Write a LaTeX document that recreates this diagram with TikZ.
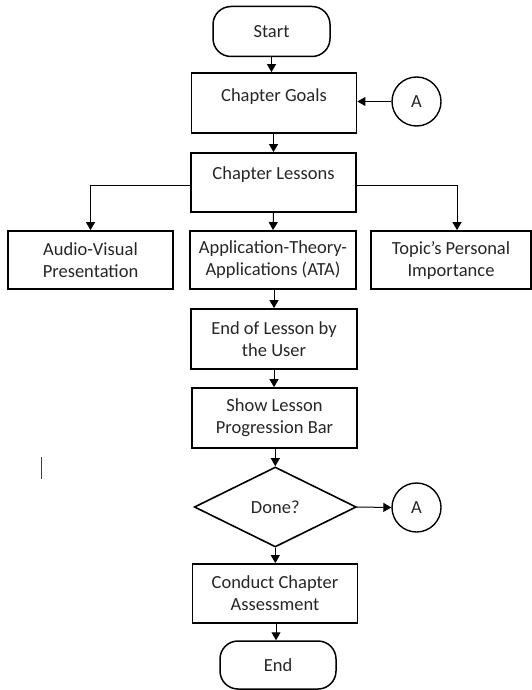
\documentclass[tikz,border=0pt]{standalone}
\usepackage{fontspec}
\setmainfont{Carlito}
\usetikzlibrary{arrows.meta,shapes.geometric}
\begin{document}
\begin{tikzpicture}[x=1pt,y=-1pt,
  every node/.style={font=\fontsize{18.5}{22}\selectfont, text=black!85},
  proc/.style={draw, line width=1.8pt, rectangle, align=center, inner sep=0pt},
  term/.style={draw, line width=1.5pt, rectangle, rounded corners=18pt, inner sep=0pt},
  conn/.style={draw, line width=1.4pt, circle, inner sep=0pt},
  dec/.style={draw, line width=1.6pt, diamond, aspect=2, inner sep=0pt},
  arr/.style={line width=1pt, -{Triangle[length=8pt,width=9pt]}}
]
\useasboundingbox (0,0) rectangle (532,690);

\node[term, minimum width=117pt, minimum height=50pt] (start) at (271.5,31.5) {Start};
\node[proc, minimum width=165pt, minimum height=60pt, text depth=16pt] (goals) at (274,103) {Chapter Goals};
\node[conn, minimum size=49pt] (ca) at (416.5,101.5) {A};
\node[proc, minimum width=165pt, minimum height=59pt, text depth=19pt] (les) at (273.5,182.5) {Chapter Lessons};
\node[proc, minimum width=165pt, minimum height=58pt] (av) at (90.5,260) {Audio-Visual\\Presentation};
\node[proc, minimum width=166pt, minimum height=58pt] (ata) at (273,260) {Application-Theory-\\Applications (ATA)};
\node[proc, minimum width=160pt, minimum height=58pt] (tpi) at (451,260) {Topic’s Personal\\Importance};
\node[proc, minimum width=166pt, minimum height=60pt] (eol) at (274,339) {End of Lesson by\\the User};
\node[proc, minimum width=165pt, minimum height=60pt] (slp) at (274.5,418) {Show Lesson\\Progression Bar};
\node[dec, minimum width=162pt, minimum height=80pt] (done) at (275.3,507) {Done?};
\node[conn, minimum size=49pt] (cb) at (416.5,507.5) {A};
\node[proc, minimum width=165pt, minimum height=59pt] (cca) at (275,593.5) {Conduct Chapter\\Assessment};
\node[term, minimum width=116pt, minimum height=48pt] (end) at (278,665) {End};

\coordinate (cur1) at (41.5,457);
\coordinate (cur2) at (41.5,479);

\draw[arr] (start.south) -- (start.south |- goals.north);
\draw[arr] (ca.west) -- (goals.east |- ca.west);
\draw[arr] (goals.south -| les.north) -- (les.north);
\draw[arr] ([yshift=-2.5pt]les.west) -| (av.north);
\draw[arr] ([yshift=-2.5pt]les.east) -| ([xshift=6pt]tpi.north);
\draw[arr] (les.south) -- (ata.north);
\draw[arr] ([xshift=1pt]ata.south) -- ([xshift=1pt]ata.south |- eol.north);
\draw[arr] (eol.south) -- (eol.south |- slp.north);
\draw[arr] (slp.south -| done.north) -- (done.north);
\draw[arr] (done.east) -- (cb.west);
\draw[arr] (done.south) -- (done.south |- cca.north);
\draw[arr] ([xshift=1pt]cca.south) -- ([xshift=1pt]cca.south |- end.north);

\draw[line width=0.9pt, black!75] (cur1) -- (cur2);
\end{tikzpicture}
\end{document}
